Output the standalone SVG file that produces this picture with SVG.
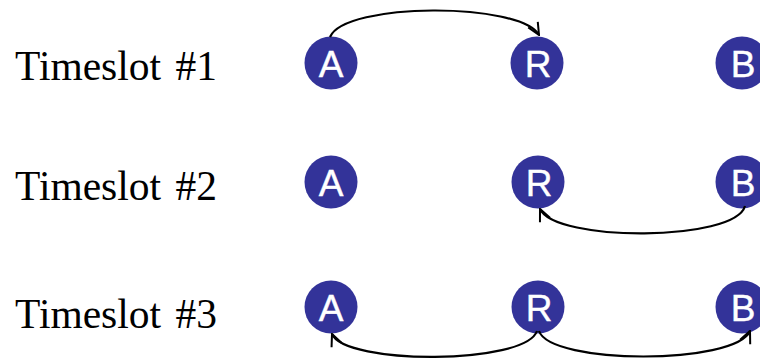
<svg xmlns="http://www.w3.org/2000/svg" width="760" height="360" viewBox="0 0 760 360">
  <style>
    .slot { font-family: "Liberation Serif", "Times New Roman", serif; font-size: 41.5px; word-spacing: 4px; fill: #000; }
    .node circle { fill: #333399; }
    .node text { font-family: "Liberation Sans", Arial, sans-serif; font-size: 37px; fill: #fff; stroke: #fff; stroke-width: 0.4; text-anchor: middle; }
    .edge { fill: none; stroke: #000; stroke-width: 2.2; marker-end: url(#arrow); }
  </style>
  <defs>
    <marker id="arrow" viewBox="0 0 14 14" refX="13" refY="7" markerWidth="14" markerHeight="14" markerUnits="userSpaceOnUse" orient="auto">
      <path d="M1,1.5 L13,7 L1,12.5" fill="none" stroke="#000" stroke-width="2"/>
    </marker>
  </defs>

  <rect width="760" height="360" fill="#fff"/>

  <!-- row labels -->
  <text class="slot" x="15" y="80">Timeslot #1</text>
  <text class="slot" x="15" y="200">Timeslot #2</text>
  <text class="slot" x="15" y="328">Timeslot #3</text>

  <!-- timeslot 1 -->
  <g id="A1" class="node"><circle cx="331" cy="63" r="26.5"/><text x="331" y="76.5">A</text></g>
  <g id="R1" class="node"><circle cx="537" cy="63" r="26.5"/><text x="538" y="76.5">R</text></g>
  <g id="B1" class="node"><circle cx="742" cy="63" r="26.5"/><text x="743" y="76.5">B</text></g>

  <!-- timeslot 2 -->
  <g id="A2" class="node"><circle cx="331" cy="182" r="26.5"/><text x="331" y="195.5">A</text></g>
  <g id="R2" class="node"><circle cx="538" cy="182" r="26.5"/><text x="539" y="195.5">R</text></g>
  <g id="B2" class="node"><circle cx="742" cy="182" r="26.5"/><text x="743" y="195.5">B</text></g>

  <!-- timeslot 3 -->
  <g id="A3" class="node"><circle cx="331" cy="307" r="26.5"/><text x="331" y="320.5">A</text></g>
  <g id="R3" class="node"><circle cx="538" cy="307" r="26.5"/><text x="539" y="320.5">R</text></g>
  <g id="B3" class="node"><circle cx="742" cy="307" r="26.5"/><text x="743" y="320.5">B</text></g>

  <!-- transmissions -->
  <g id="connectors">
    <path class="edge" d="M330,37 C345,2 520,2 539,35"/>
    <path class="edge" d="M745,206 C735,242 555,242 540,209"/>
    <path class="edge" d="M537,331 C525,365 345,365 332,334"/>
    <path class="edge" d="M539,331 C551,365 735,365 750,331"/>
  </g>
</svg>
